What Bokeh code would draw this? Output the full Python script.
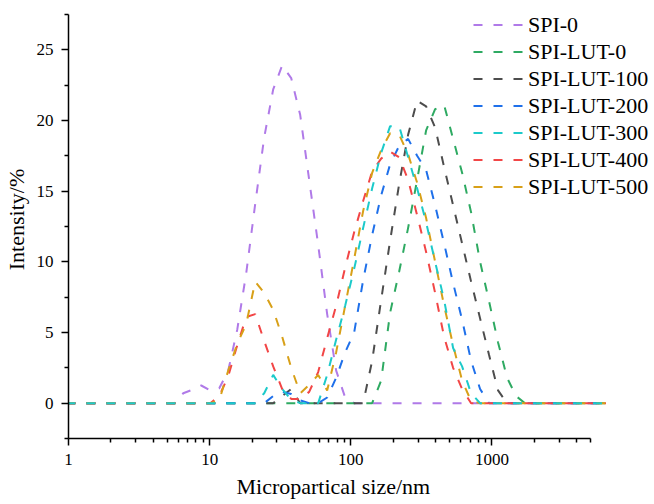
from bokeh.plotting import figure
from bokeh.models import Range1d, FixedTicker, Legend, LegendItem, Title
from bokeh.embed import file_html
from bokeh.resources import INLINE

# particle size bins (nm)
sizes = [0.9649, 1.117, 1.294, 1.499, 1.736, 2.01, 2.328, 2.696, 3.122, 3.615,
         4.187, 4.849, 5.615, 6.503, 7.531, 8.721, 10.1, 11.7, 13.54, 15.69,
         18.17, 21.04, 24.36, 28.21, 32.67, 37.84, 43.82, 50.75, 58.77, 68.06,
         78.82, 91.28, 105.7, 122.4, 141.8, 164.2, 190.1, 220.2, 255.0, 295.3,
         342.0, 396.1, 458.7, 531.2, 615.1, 712.4, 825.0, 955.4, 1106, 1281,
         1484, 1718, 1990, 2305, 2669, 3091, 3580, 4145, 4801, 5560, 6439]

spi_0 = [0, 0, 0, 0, 0, 0, 0, 0, 0, 0,
         0, 0, 0, 0.7, 0.95, 1.25, 0.9, 1.05, 2.3, 5.2,
         9.2, 14.1, 18.8, 22.2, 23.9, 23.0, 20.4, 15.8, 11.2, 6.3,
         2.3, 0.4, 0, 0, 0, 0, 0, 0, 0, 0,
         0, 0, 0, 0, 0, 0, 0, 0, 0, 0,
         0, 0, 0, 0, 0, 0, 0, 0, 0, 0, 0]
spi_lut_0 = [0, 0, 0, 0, 0, 0, 0, 0, 0, 0,
             0, 0, 0, 0, 0, 0, 0, 0, 0, 0,
             0, 0, 0, 0, 0, 0, 0, 0, 0, 0,
             0, 0, 0, 0, 0, 1.6, 6.4, 9.3, 12.4, 15.8,
             19.3, 20.8, 21.1, 18.7, 16.3, 13.5, 10.0, 7.2, 4.3, 1.8,
             0.5, 0, 0, 0, 0, 0, 0, 0, 0, 0, 0]
spi_lut_100 = [0, 0, 0, 0, 0, 0, 0, 0, 0, 0,
               0, 0, 0, 0, 0, 0, 0, 0, 0, 0,
               0, 0, 0, 0, 0.5, 1.0, 0, 0, 0, 0,
               0, 0, 0, 0, 3.0, 7.3, 11.5, 15.5, 19.0, 21.4,
               21.0, 19.5, 16.7, 14.0, 11.3, 8.6, 6.0, 3.4, 0.9, 0,
               0, 0, 0, 0, 0, 0, 0, 0, 0, 0, 0]
spi_lut_200 = [0, 0, 0, 0, 0, 0, 0, 0, 0, 0,
               0, 0, 0, 0, 0, 0, 0, 0, 0, 0,
               0, 0, 0, 0.5, 0.8, 0.65, 0.2, 0, 0, 0.4,
               1.8, 3.6, 5.0, 8.7, 11.9, 14.7, 16.9, 18.2, 18.7, 17.5,
               16.5, 14.0, 11.3, 8.5, 5.9, 3.0, 1.0, 0, 0, 0,
               0, 0, 0, 0, 0, 0, 0, 0, 0, 0, 0]
spi_lut_300 = [0, 0, 0, 0, 0, 0, 0, 0, 0, 0,
               0, 0, 0, 0, 0, 0, 0, 0, 0, 0,
               0, 0, 0.7, 2.0, 1.0, 0.25, 0, 0, 0, 2.0,
               4.5, 6.9, 9.5, 12.4, 15.2, 17.7, 19.6, 19.6, 17.4, 15.2,
               12.8, 10.0, 7.3, 3.9, 2.6, 0.7, 0, 0, 0, 0,
               0, 0, 0, 0, 0, 0, 0, 0, 0, 0, 0]
spi_lut_400 = [0, 0, 0, 0, 0, 0, 0, 0, 0, 0,
               0, 0, 0, 0, 0, 0, 0, 0.5, 1.9, 4.1,
               6.1, 6.3, 4.4, 2.6, 1.0, 0.3, 0.3, 0.8, 2.2, 4.6,
               6.9, 9.6, 12.1, 14.3, 16.4, 17.3, 17.8, 17.4, 15.8, 13.3,
               10.7, 7.8, 4.7, 2.5, 1.0, 0, 0, 0, 0, 0,
               0, 0, 0, 0, 0, 0, 0, 0, 0, 0, 0]
spi_lut_500 = [0, 0, 0, 0, 0, 0, 0, 0, 0, 0,
               0, 0, 0, 0, 0, 0, 0, 0.2, 2.3, 4.2,
               5.6, 8.6, 7.8, 6.6, 4.7, 2.5, 0.7, 1.3, 2.0, 0.9,
               3.6, 6.9, 10.2, 13.6, 16.3, 17.9, 19.1, 19.0, 17.6, 15.6,
               13.1, 10.0, 6.9, 4.1, 1.6, 0.15, 0, 0, 0, 0,
               0, 0, 0, 0, 0, 0, 0, 0, 0, 0, 0]

series_names = ["SPI-0", "SPI-LUT-0", "SPI-LUT-100", "SPI-LUT-200",
                "SPI-LUT-300", "SPI-LUT-400", "SPI-LUT-500"]
series_values = [spi_0, spi_lut_0, spi_lut_100, spi_lut_200,
                 spi_lut_300, spi_lut_400, spi_lut_500]
colors = ["#B07AE8", "#2EAA62", "#4D4D4D", "#1F70EA",
          "#1CCACA", "#F24646", "#D8A018"]
draw_order = [0, 1, 2, 3, 5, 6, 4]

x_major_ticks = [1, 10, 100, 1000]
x_tick_labels = ["1", "10", "100", "1000"]
x_axis_end = 5000
y_major_ticks = [0, 5, 10, 15, 20, 25]
y_axis_bounds = (-2.5, 27.5)

FONT = "Liberation Serif"

# frame spans to the right and top edges so the legend is not clipped;
# the visible axes are bounded at x 1..5000 and y -2.5..27.5
p = figure(width=654, height=504, x_axis_type="log",
           x_range=Range1d(1, 14200), y_range=Range1d(-2.5, 28.49),
           output_backend="svg", toolbar_location=None,
           min_border_left=68, min_border_right=0,
           min_border_top=0, min_border_bottom=66)
p.outline_line_color = None
p.xgrid.visible = False
p.ygrid.visible = False
p.background_fill_color = "white"

renderers = {}
for i in draw_order:
    r = p.line(sizes, series_values[i], line_color=colors[i], line_width=2,
               line_dash="9 11")
    renderers[i] = r

items = [LegendItem(label=series_names[i], renderers=[renderers[i]])
         for i in range(len(series_names))]
legend = Legend(items=items, location=(405, 238), orientation="vertical",
                glyph_width=50, glyph_height=27, label_height=27,
                label_standoff=5, spacing=0, padding=0, margin=0,
                label_text_font=FONT, label_text_font_size="22px",
                label_text_color="black",
                border_line_color=None, background_fill_alpha=0)
p.add_layout(legend, "center")

minor_x = []
for d in [1, 10, 100, 1000]:
    for k in range(2, 10):
        if d * k <= x_axis_end:
            minor_x.append(d * k)
p.xaxis.ticker = FixedTicker(ticks=x_major_ticks, minor_ticks=minor_x)
p.xaxis.major_label_overrides = {t: s for t, s in zip(x_major_ticks, x_tick_labels)}
p.xaxis.bounds = (1, x_axis_end)
p.yaxis.ticker = FixedTicker(ticks=y_major_ticks,
                             minor_ticks=[-2.5, 2.5, 7.5, 12.5, 17.5, 22.5, 27.5])
p.yaxis.bounds = y_axis_bounds

for ax in [p.xaxis[0], p.yaxis[0]]:
    ax.axis_line_width = 1.5
    ax.axis_line_color = "black"
    ax.major_tick_line_width = 1.5
    ax.minor_tick_line_width = 1.5
    ax.major_tick_line_color = "black"
    ax.minor_tick_line_color = "black"
    ax.major_tick_out = 7
    ax.major_tick_in = 0
    ax.minor_tick_out = 4
    ax.minor_tick_in = 0
    ax.major_label_text_font = FONT
    ax.major_label_text_font_size = "17px"
    ax.major_label_text_color = "black"
    ax.axis_label_text_font = FONT
    ax.axis_label_text_font_size = "22px"
    ax.axis_label_text_font_style = "normal"
    ax.axis_label_text_color = "black"

p.yaxis.axis_label = "Intensity/%"
p.xaxis.major_label_standoff = 8
p.yaxis.major_label_standoff = 8
p.yaxis.axis_label_standoff = 5

# x-axis title centred under the bounded axis (1..5000)
xtitle = Title(text="Micropartical size/nm", align="left", offset=168,
               text_font=FONT, text_font_size="22px", text_font_style="normal",
               text_color="black", standoff=9)
p.add_layout(xtitle, "below")

open("out.html", "w").write(file_html(p, INLINE))
